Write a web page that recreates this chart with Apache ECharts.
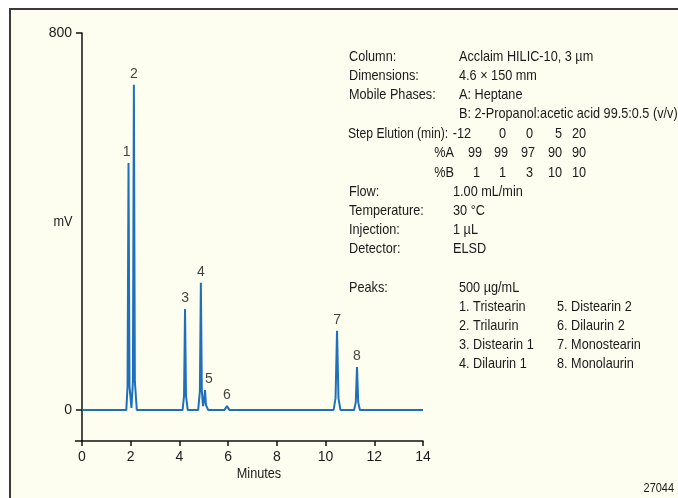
<!DOCTYPE html>
<html>
<head>
<meta charset="utf-8">
<script src="https://cdn.jsdelivr.net/npm/echarts@6/dist/echarts.min.js"></script>
<style>
  html, body { margin: 0; padding: 0; background: #fff; }
  #main { width: 678px; height: 498px; }
</style>
</head>
<body>
<div id="main"></div>
<script>
var myChart = echarts.init(document.getElementById('main'))
var FONT = '"Liberation Sans", Arial, sans-serif'
var lineColor = '#1f70bb'
var txtColor = '#1a1a1a'
var NARROW = 0.875 // squeeze to look like the condensed face of the original

// chromatogram trace: [minutes, mV]
var trace = [
  [0, 0], [1.82, 0], [1.87, 50], [1.91, 524], [1.95, 50], [2.03, 4],
  [2.09, 60], [2.13, 690], [2.17, 60], [2.25, 0],
  [4.13, 0], [4.19, 30], [4.23, 214], [4.27, 30], [4.34, 0],
  [4.77, 0], [4.84, 40], [4.88, 270], [4.92, 40], [4.97, 8],
  [5.01, 20], [5.05, 42], [5.09, 10], [5.18, 0],
  [5.85, 0], [5.95, 8], [6.05, 0],
  [10.33, 0], [10.41, 25], [10.47, 168], [10.53, 25], [10.61, 0],
  [11.17, 0], [11.24, 16], [11.29, 91], [11.34, 16], [11.41, 0],
  [14, 0]
]
// peak apexes and their numbers
var peakTimes = [1.91, 2.13, 4.23, 4.88, 5.05, 5.95, 10.47, 11.29]
var peakHeights = [524, 690, 214, 270, 42, 8, 168, 91]
var peakNames = ['1', '2', '3', '4', '5', '6', '7', '8']

var yTicks = [0, 800]

// conditions text
var condLabels = ['Column:', 'Dimensions:', 'Mobile Phases:', '']
var condValues = ['Acclaim HILIC-10, 3 µm', '4.6 × 150 mm', 'A: Heptane', 'B: 2-Propanol:acetic acid 99.5:0.5 (v/v)']
var stepTimes = ['-12', '0', '0', '5', '20']
var stepA = ['99', '99', '97', '90', '90']
var stepB = ['1', '1', '3', '10', '10']
var runLabels = ['Flow:', 'Temperature:', 'Injection:', 'Detector:']
var runValues = ['1.00 mL/min', '30 °C', '1 µL', 'ELSD']
var peakListLeft = ['1. Tristearin', '2. Trilaurin', '3. Distearin 1', '4. Dilaurin 1']
var peakListRight = ['5. Distearin 2', '6. Dilaurin 2', '7. Monostearin', '8. Monolaurin']

function txt(x, y, s, align, size, sx) {
  return {
    type: 'text', x: x, y: y, z: 10, scaleX: sx || NARROW,
    style: {
      text: s, fill: txtColor, font: (size || 14.5) + 'px ' + FONT,
      textAlign: align || 'left', textVerticalAlign: 'middle'
    }
  }
}

var graphics = [
  {
    type: 'rect', z: -10,
    shape: { x: 10, y: 9, width: 700, height: 520 },
    style: { fill: '#fefef0', stroke: '#3a3a3a', lineWidth: 2 }
  },
  {
    type: 'line', z: 5,
    shape: { x1: 75, y1: 441, x2: 83, y2: 441 },
    style: { stroke: '#111', lineWidth: 1.5 }
  },
  txt(63, 222, 'mV', 'center'),
  txt(674, 489, '27044', 'right', 12.5)
]
var rowY = [57, 76, 95, 114]
for (var i = 0; i < condLabels.length; i++) {
  graphics.push(txt(349, rowY[i], condLabels[i]))
  graphics.push(txt(459, rowY[i], condValues[i]))
}
var colRight = [506, 533, 562, 586]
graphics.push(txt(348, 134, 'Step Elution (min):', 'left', 14.5, 0.84))
graphics.push(txt(471, 134, stepTimes[0], 'right'))
graphics.push(txt(454, 153, '%A', 'right'))
graphics.push(txt(482, 153, stepA[0], 'right'))
graphics.push(txt(454, 173, '%B', 'right'))
graphics.push(txt(480, 173, stepB[0], 'right'))
for (var j = 1; j < 5; j++) {
  graphics.push(txt(colRight[j - 1], 134, stepTimes[j], 'right'))
  graphics.push(txt(colRight[j - 1] + (j < 3 ? 2 : 0), 153, stepA[j], 'right'))
  graphics.push(txt(colRight[j - 1], 173, stepB[j], 'right'))
}
for (var k = 0; k < runLabels.length; k++) {
  graphics.push(txt(349, 192 + k * 19, runLabels[k]))
  graphics.push(txt(453, 192 + k * 19, runValues[k]))
}
graphics.push(txt(349, 288, 'Peaks:'))
graphics.push(txt(459, 288, '500 µg/mL'))
for (var m = 0; m < peakListLeft.length; m++) {
  graphics.push(txt(459, 307 + m * 19, peakListLeft[m]))
  graphics.push(txt(557, 307 + m * 19, peakListRight[m]))
}
graphics.push(txt(259, 474, 'Minutes', 'center'))

var peakData = peakTimes.map(function (t, i) {
  return {
    value: [t, peakHeights[i]],
    label: { offset: i === 4 ? [4, 0] : (i === 0 ? [-2, 0] : [0, 0]) }
  }
})

var option = {
  backgroundColor: '#fff',
  animation: false,
  textStyle: { fontFamily: FONT },
  grid: { left: 82, right: 255, top: 33, bottom: 57, containLabel: false },
  graphic: graphics,
  xAxis: {
    type: 'value', min: 0, max: 14, interval: 2,
    axisLine: { onZero: false, lineStyle: { color: '#111', width: 1.5 } },
    axisTick: { length: 5, lineStyle: { color: '#111', width: 1.5 } },
    axisLabel: { color: txtColor, fontSize: 14, margin: 9, fontFamily: FONT },
    splitLine: { show: false }
  },
  yAxis: {
    type: 'value', min: -66, max: 800,
    axisLine: { show: true, onZero: false, lineStyle: { color: '#111', width: 1.5 } },
    axisTick: { show: true, length: 6, customValues: yTicks, lineStyle: { color: '#111', width: 1.5 } },
    axisLabel: { color: txtColor, fontSize: 14, margin: 10, customValues: yTicks, fontFamily: FONT },
    splitLine: { show: false }
  },
  series: [
    {
      type: 'line',
      data: trace,
      showSymbol: false,
      symbol: 'none',
      smooth: false,
      lineStyle: { color: lineColor, width: 2 }
    },
    {
      type: 'scatter',
      data: peakData,
      symbolSize: 0,
      label: {
        show: true, position: 'top', distance: 4,
        color: '#111', fontSize: 14, fontFamily: FONT,
        formatter: function (p) { return peakNames[p.dataIndex] }
      }
    }
  ]
}
myChart.setOption(option)
</script>
</body>
</html>
